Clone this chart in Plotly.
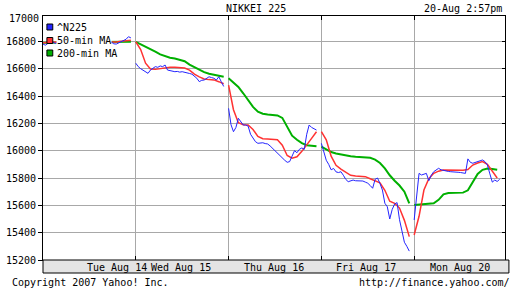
import plotly.graph_objects as go

# ---------------- data ----------------
DAY_LABELS = ["Tue Aug 14", "Wed Aug 15", "Thu Aug 16", "Fri Aug 17", "Mon Aug 20"]
Y_TICKS = [15200, 15400, 15600, 15800, 16000, 16200, 16400, 16600, 16800]
TITLE = "NIKKEI 225"
STAMP = "20-Aug 2:57pm"
SERIES_NAMES = ["^N225", "50-min MA", "200-min MA"]

# ^N225 index level, every 10 minutes from the open, one list per session
n225_tue = [16780, 16772, 16785, 16790, 16795, 16785, 16790, 16800, 16795, 16790,
            16800, 16805, 16795, 16790, 16785, 16795, 16800, 16795, 16790, 16800,
            16805, 16795, 16790, 16800, 16795, 16790, 16795, 16800, 16795, 16782,
            16780, 16790, 16800, 16805, 16815, 16834, 16825]
n225_wed = [16640, 16615, 16600, 16590, 16575, 16566, 16590, 16603, 16615, 16610,
            16620, 16615, 16627, 16590, 16585, 16580, 16578, 16580, 16575, 16578,
            16575, 16570, 16565, 16560, 16545, 16530, 16505, 16515, 16517, 16530,
            16541, 16535, 16530, 16517, 16541, 16505, 16470]
n225_thu = [16310, 16190, 16139, 16170, 16237, 16210, 16188, 16188, 16180, 16120,
            16090, 16066, 16054, 16058, 16058, 16052, 16049, 16035, 16017, 16000,
            15985, 15960, 15945, 15930, 15915, 15920, 15960, 16000, 15985, 16010,
            16020, 16010, 16120, 16188, 16170, 16160, 16151]
n225_fri = [16054, 15990, 15930, 15900, 15860, 15870, 15845, 15840, 15846, 15820,
            15790, 15773, 15780, 15785, 15780, 15780, 15778, 15778, 15770, 15762,
            15745, 15725, 15790, 15800, 15760, 15712, 15615, 15590, 15500, 15570,
            15610, 15620, 15495, 15420, 15330, 15300, 15265]
n225_mon = [15493, 15650, 15834, 15822, 15830, 15834, 15780, 15820, 15846, 15860,
            15871, 15860, 15855, 15850, 15848, 15846, 15846, 15845, 15842, 15840,
            15838, 15834, 15940, 15915, 15908, 15915, 15920, 15925, 15932, 15920,
            15895, 15830, 15770, 15785, 15775, 15790]

# 50-minute moving average, every 20 minutes from the open
ma50_tue = [16790, 16792, 16795, 16795, 16793, 16795, 16797, 16798, 16797, 16795,
            16795, 16797, 16798, 16795, 16793, 16795, 16800, 16805, 16808]
ma50_wed = [16797, 16740, 16640, 16598, 16595, 16600, 16608, 16610, 16610, 16608,
            16605, 16590, 16560, 16540, 16525, 16520, 16518, 16505, 16490]
ma50_thu = [16480, 16300, 16205, 16190, 16188, 16155, 16105, 16088, 16085, 16083,
            16080, 16040, 15965, 15945, 15955, 15995, 16040, 16090, 16139]
ma50_fri = [16139, 16080, 15960, 15893, 15865, 15840, 15820, 15815, 15812, 15810,
            15795, 15780, 15765, 15710, 15630, 15615, 15580, 15490, 15371]
ma50_mon = [15383, 15520, 15712, 15795, 15834, 15850, 15859, 15857, 15855, 15853,
            15856, 15862, 15895, 15910, 15920, 15900, 15850, 15800]

# 200-minute moving average, every 20 minutes from the open
ma200_tue = [16790, 16791, 16792, 16793, 16793, 16794, 16794, 16795, 16795, 16795,
             16795, 16795, 16796, 16796, 16796, 16796, 16797, 16797, 16797]
ma200_wed = [16797, 16780, 16765, 16745, 16725, 16705, 16690, 16680, 16675, 16665,
             16655, 16630, 16610, 16590, 16575, 16563, 16555, 16548, 16541]
ma200_thu = [16530, 16500, 16466, 16420, 16371, 16320, 16285, 16270, 16265, 16262,
             16258, 16240, 16170, 16110, 16080, 16055, 16040, 16035, 16033]
ma200_fri = [16030, 16010, 15990, 15980, 15972, 15968, 15960, 15956, 15953, 15951,
             15948, 15935, 15910, 15870, 15820, 15780, 15745, 15700, 15615]
ma200_mon = [15603, 15605, 15608, 15612, 15615, 15640, 15680, 15690, 15692, 15693,
             15693, 15710, 15765, 15830, 15860, 15870, 15866, 15860]

N225 = [n225_tue, n225_wed, n225_thu, n225_fri, n225_mon]
MA50 = [ma50_tue, ma50_wed, ma50_thu, ma50_fri, ma50_mon]
MA200 = [ma200_tue, ma200_wed, ma200_thu, ma200_fri, ma200_mon]

SLOT = 380          # minutes allotted per session slot on the compressed time axis
X_MAX = 1892

# ---------------- styling ----------------
W, H = 512, 288
L, R, T, B = 33, 6, 16, 28
PW, PH = W - L - R, H - T - B
FONT = "DejaVu Sans Mono"
BLUE, RED, GREEN = "#2424ff", "#ff3232", "#00b000"
GRID = "#a8a8a8"


def series(days, step):
    xs, ys = [], []
    for d, vals in enumerate(days):
        for i, v in enumerate(vals):
            xs.append(d * SLOT + i * step)
            ys.append(v)
        xs.append(None)
        ys.append(None)
    return xs, ys


def px(x):
    return (x - L) / PW


def py(y):
    return (H - B - y) / PH


fig = go.Figure()
gx, gy = series(MA200, 20)
rx, ry = series(MA50, 20)
bx, by = series(N225, 10)
fig.add_trace(go.Scatter(x=gx, y=gy, mode="lines", line=dict(color=GREEN, width=2),
                         name=SERIES_NAMES[2], hoverinfo="skip"))
fig.add_trace(go.Scatter(x=rx, y=ry, mode="lines", line=dict(color=RED, width=1.5),
                         name=SERIES_NAMES[1], hoverinfo="skip"))
fig.add_trace(go.Scatter(x=bx, y=by, mode="lines", line=dict(color=BLUE, width=1),
                         name=SERIES_NAMES[0], hoverinfo="skip"))
# carrier for the right-hand tick axis
fig.add_trace(go.Scatter(x=[0], y=[Y_TICKS[0]], yaxis="y2", mode="markers",
                         marker=dict(opacity=0), hoverinfo="skip"))

Y_RANGE = [15200, 15200 + PH * 200 / 27.33]
day_bounds = [d * SLOT for d in range(1, len(DAY_LABELS))]

fig.update_layout(
    width=W, height=H, margin=dict(l=L, r=R, t=T, b=B),
    paper_bgcolor="white", plot_bgcolor="white", showlegend=False,
    font=dict(family=FONT, size=10, color="black"),
    xaxis=dict(range=[0, X_MAX], tickvals=day_bounds, showticklabels=False,
               ticks="inside", ticklen=4, tickcolor="black", mirror="ticks",
               showline=True, linecolor="black", linewidth=1,
               showgrid=True, gridcolor=GRID, gridwidth=1, zeroline=False, fixedrange=True),
    yaxis=dict(range=Y_RANGE, tickvals=Y_TICKS, ticktext=[str(v) for v in Y_TICKS],
               ticks="outside", ticklen=4,
               tickcolor="black", showline=True, linecolor="black", linewidth=1, mirror=True,
               showgrid=True, gridcolor=GRID, gridwidth=1, zeroline=False,
               tickfont=dict(family=FONT, size=10), fixedrange=True),
    yaxis2=dict(range=Y_RANGE, tickvals=Y_TICKS, overlaying="y", side="right",
                ticks="inside", ticklen=3, tickcolor="black", showticklabels=False,
                showgrid=False, zeroline=False, showline=False, fixedrange=True),
)

shapes = [
    dict(type="rect", xref="paper", yref="paper", x0=0, x1=px(510),
         y0=py(273), y1=0, fillcolor="#e4e4e4", line=dict(color="black", width=1),
         layer="above"),
]
ann = []


def text(s, x, y, anchor="center", bg=None):
    d = dict(text=s, xref="paper", yref="paper", x=px(x), y=py(y), xanchor=anchor,
             yanchor="middle", showarrow=False, font=dict(family=FONT, size=10, color="black"),
             borderpad=0)
    if bg:
        d["bgcolor"] = bg
    ann.append(d)


text(TITLE, 251, 8.5)
text(STAMP, 504, 8.5, "right")
text("17000", 29.5, 19, "right")
for lbl, cx in zip(DAY_LABELS, [109, 174, 269.5, 364, 459.7]):
    text(lbl, cx, 267)
text("Copyright 2007 Yahoo! Inc.", 0, 282.5, "left")
text("http://finance.yahoo.com/", 512, 282.5, "right")

for (name, col), cy in zip(zip(SERIES_NAMES, [BLUE, RED, GREEN]), [27, 40.5, 53]):
    shapes.append(dict(type="rect", xref="paper", yref="paper", x0=px(37), x1=px(43),
                       y0=py(cy + 3), y1=py(cy - 3), fillcolor=col,
                       line=dict(color="black", width=1), layer="above"))
    text(name, 46.5, cy + 0.5, "left", bg="white")

fig.update_layout(shapes=shapes, annotations=ann)
fig.write_html("out.html")
